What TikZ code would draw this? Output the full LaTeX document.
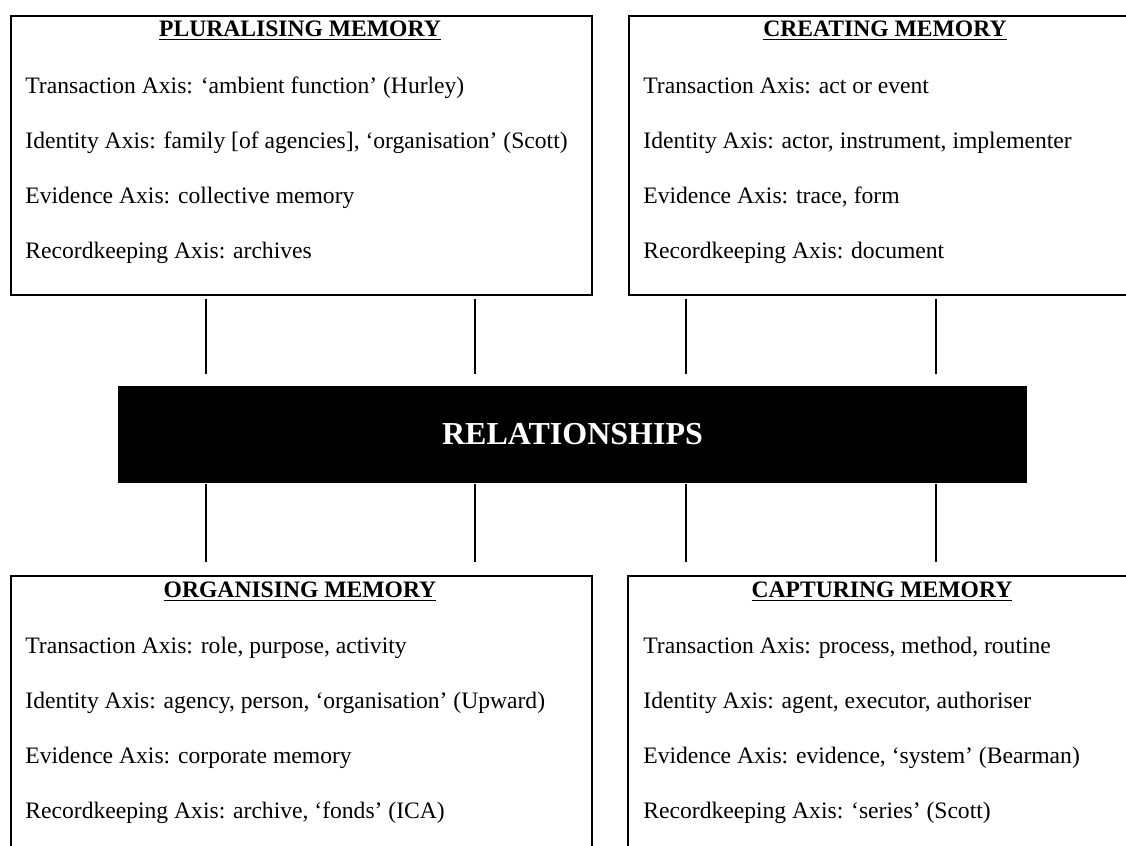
\documentclass[tikz,border=0pt]{standalone}
\usepackage{fontspec}
\setmainfont{Liberation Serif}
\usetikzlibrary{calc}

\begin{document}
\begin{tikzpicture}[x=0.5pt,y=-0.5pt,
		memorybox/.style={draw,line width=1pt,anchor=north west,inner sep=0pt},
		head/.style={anchor=base,inner sep=0pt,font=\fontsize{11.8}{14}\selectfont\bfseries},
		axis/.style={anchor=base west,inner sep=0pt,font=\fontsize{11.8}{14}\selectfont},
		link/.style={line width=0.6pt}]
				\useasboundingbox (0,0) rectangle (1126,846);
				\clip (0,0) rectangle (1126,846);
				% four boxes
				\node[memorybox,minimum width=290.5pt,minimum height=139.5pt] (plur) at (10,15) {};
				\node[memorybox,minimum width=257pt,minimum height=139.5pt] (creat) at (628,15) {};
				\node[memorybox,minimum width=290.5pt,minimum height=162.5pt] (org) at (10,575) {};
				\node[memorybox,minimum width=257pt,minimum height=162.5pt] (capt) at (627,575) {};
				\node[fill=black,minimum width=454.5pt,minimum height=48.5pt,inner sep=0pt,text=white,font=\fontsize{16}{19}\selectfont\bfseries] (rel) at (572.5,434.5) {RELATIONSHIPS};
				% top left
				\node[head] (plurhead) at (300,36) {\underline{PLURALISING MEMORY}};
				\node[axis] (plurT) at (25,93) {Transaction Axis: ‘ambient function’ (Hurley)};
				\node[axis] (plurI) at (25,148) {Identity Axis: family [of agencies], ‘organisation’ (Scott)};
				\node[axis] (plurE) at (25,203) {Evidence Axis: collective memory};
				\node[axis] (plurR) at (25,258) {Recordkeeping Axis: archives};
				% top right
				\node[head] (creathead) at (885,36) {\underline{CREATING MEMORY}};
				\node[axis] (creatT) at (643,93) {Transaction Axis: act or event};
				\node[axis] (creatI) at (643,148) {Identity Axis: actor, instrument, implementer};
				\node[axis] (creatE) at (643,203) {Evidence Axis: trace, form};
				\node[axis] (creatR) at (643,258) {Recordkeeping Axis: document};
				% bottom left
				\node[head] (orghead) at (300,597) {\underline{ORGANISING MEMORY}};
				\node[axis] (orgT) at (25,653) {Transaction Axis: role, purpose, activity};
				\node[axis] (orgI) at (25,708) {Identity Axis: agency, person, ‘organisation’ (Upward)};
				\node[axis] (orgE) at (25,763) {Evidence Axis: corporate memory};
				\node[axis] (orgR) at (25,818) {Recordkeeping Axis: archive, ‘fonds’ (ICA)};
				% bottom right
				\node[head] (capthead) at (882,597) {\underline{CAPTURING MEMORY}};
				\node[axis] (captT) at (643,653) {Transaction Axis: process, method, routine};
				\node[axis] (captI) at (643,708) {Identity Axis: agent, executor, authoriser};
				\node[axis] (captE) at (643,763) {Evidence Axis: evidence, ‘system’ (Bearman)};
				\node[axis] (captR) at (643,818) {Recordkeeping Axis: ‘series’ (Scott)};
				% connectors
				\coordinate (c1) at (206,0);
				\coordinate (c2) at (475,0);
				\coordinate (c3) at (686,0);
				\coordinate (c4) at (936,0);
				\draw[link,shorten <=1.5pt,shorten >=6pt] (plur.south -| c1) -- (rel.north -| c1);
				\draw[link,shorten <=1.5pt,shorten >=6pt] (plur.south -| c2) -- (rel.north -| c2);
				\draw[link,shorten <=1.5pt,shorten >=6pt] (creat.south -| c3) -- (rel.north -| c3);
				\draw[link,shorten <=1.5pt,shorten >=6pt] (creat.south -| c4) -- (rel.north -| c4);
				\draw[link,shorten <=0.5pt,shorten >=6.5pt] (rel.south -| c1) -- (org.north -| c1);
				\draw[link,shorten <=0.5pt,shorten >=6.5pt] (rel.south -| c2) -- (org.north -| c2);
				\draw[link,shorten <=0.5pt,shorten >=6.5pt] (rel.south -| c3) -- (capt.north -| c3);
				\draw[link,shorten <=0.5pt,shorten >=6.5pt] (rel.south -| c4) -- (capt.north -| c4);
			\end{tikzpicture}
\end{document}
